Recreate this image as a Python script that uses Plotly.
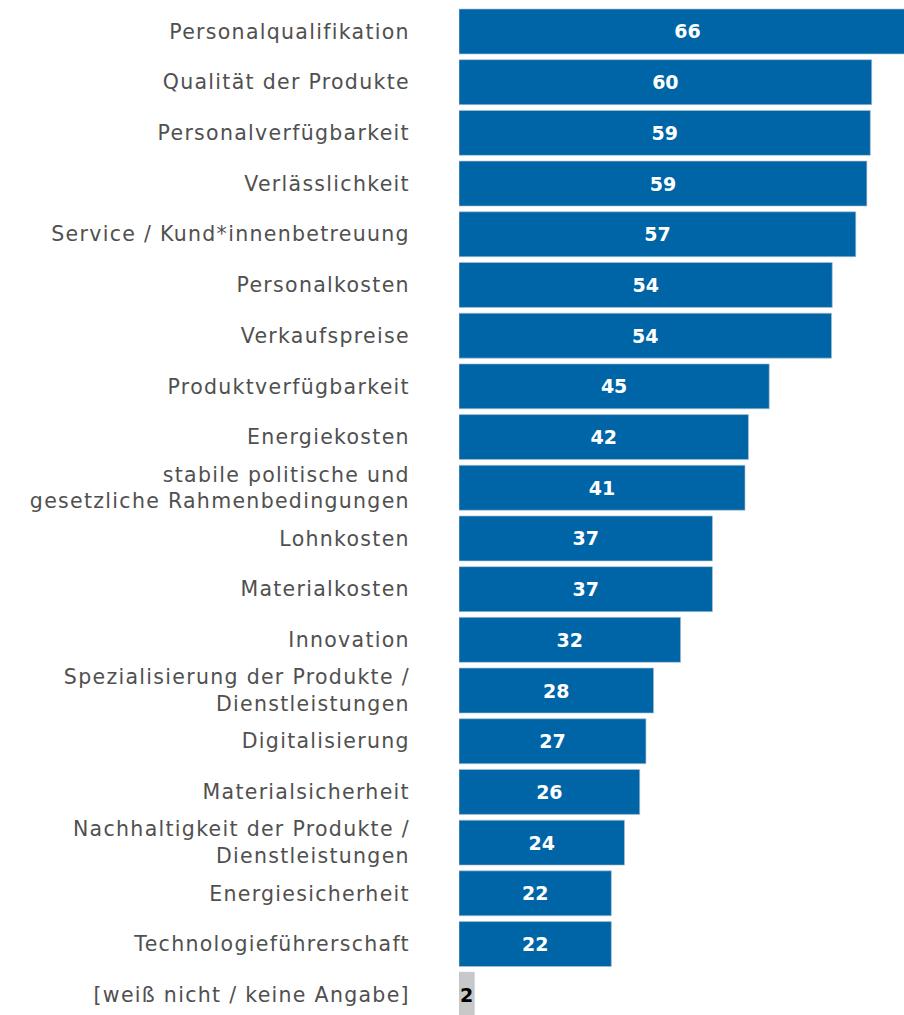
import plotly.graph_objects as go

categories = [
    "Personalqualifikation",
    "Qualität der Produkte",
    "Personalverfügbarkeit",
    "Verlässlichkeit",
    "Service / Kund*innenbetreuung",
    "Personalkosten",
    "Verkaufspreise",
    "Produktverfügbarkeit",
    "Energiekosten",
    "stabile politische und<br>gesetzliche Rahmenbedingungen",
    "Lohnkosten",
    "Materialkosten",
    "Innovation",
    "Spezialisierung der Produkte /<br>Dienstleistungen",
    "Digitalisierung",
    "Materialsicherheit",
    "Nachhaltigkeit der Produkte /<br>Dienstleistungen",
    "Energiesicherheit",
    "Technologieführerschaft",
    "[weiß nicht / keine Angabe]",
]
values = [66.0, 59.6, 59.4, 58.9, 57.3, 53.9, 53.8, 44.8, 41.8, 41.3,
          36.6, 36.6, 32.0, 28.1, 27.0, 26.1, 23.9, 22.0, 22.0, 2.2]
value_labels = [66, 60, 59, 59, 57, 54, 54, 45, 42, 41,
                37, 37, 32, 28, 27, 26, 24, 22, 22, 2]

BLUE = "#0065A6"
GRAY = "#C8C8C8"
bar_colors = [BLUE] * 19 + [GRAY]
text_colors = ["white"] * 19 + ["black"]


def spaced(label):
    return "<br>".join(
        '<span style="letter-spacing:1.3px">' + part + "</span>"
        for part in label.split("<br>")
    )


tick_text = [spaced(c) for c in categories]

n = len(categories)
pos = list(range(n))

fig = go.Figure(
    go.Bar(
        x=values,
        y=pos,
        orientation="h",
        marker=dict(color=bar_colors, line=dict(color="rgba(180,195,210,0.8)", width=0.8)),
        width=0.887,
        text=[str(v) for v in value_labels],
        textposition="inside",
        insidetextanchor="middle",
        constraintext="none",
        textangle=0,
        textfont=dict(color=text_colors, size=19, family="DejaVu Sans", weight="bold"),
        hoverinfo="skip",
        cliponaxis=True,
    )
)

fig.update_layout(
    width=904,
    height=1015,
    margin=dict(l=459, r=0, t=0, b=0),
    paper_bgcolor="white",
    plot_bgcolor="white",
    showlegend=False,
    bargap=0.11,
    xaxis=dict(range=[0, 64.26], visible=False, showgrid=False, zeroline=False),
    yaxis=dict(
        range=[19.40, -0.621],
        tickmode="array",
        tickvals=pos,
        ticktext=tick_text,
        ticks="outside",
        ticklen=44,
        tickcolor="rgba(0,0,0,0)",
        showgrid=False,
        zeroline=False,
        showline=False,
        tickfont=dict(family="DejaVu Sans", size=20.5, color="#505050"),
    ),
)

fig.write_html("out.html")
